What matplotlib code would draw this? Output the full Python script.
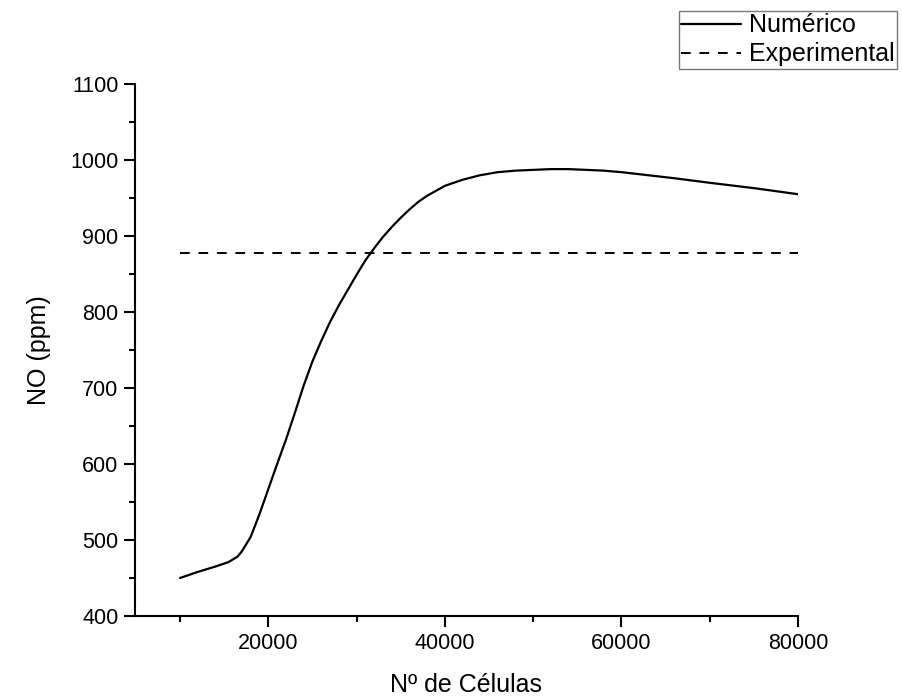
import matplotlib
matplotlib.use("Agg")
import matplotlib.pyplot as plt

plt.rcParams['font.family'] = ['Liberation Sans', 'DejaVu Sans']

cells = [10000, 12000, 14000, 15500, 16500, 17000, 18000, 19000, 20000, 21000, 22000,
         23000, 24000, 25000, 26000, 27000, 28000, 29000, 30000, 31000, 32000,
         33000, 34000, 35000, 36000, 37000, 38000, 40000, 42000, 44000, 46000,
         48000, 50000, 52000, 54000, 56000, 58000, 60000, 63000, 66000, 70000,
         75000, 80000]
no_num = [450, 458, 465, 471, 478, 485, 504, 534, 567, 600, 632,
          667, 703, 735, 762, 787, 809, 829, 849, 868, 884,
          899, 912, 924, 935, 945, 953, 966, 974, 980, 984,
          986, 987, 988, 988, 987, 986, 984, 980, 976, 970,
          963, 955]
exp_x = [10000, 80000]
exp_y = [878, 878]

fig = plt.figure(figsize=(9.02, 6.98), dpi=100)
ax = fig.add_axes([135/902, 1-616/698, (798-135)/902, (616-84)/698])
ax.plot(cells, no_num, color='black', lw=1.6, label='Numérico',
        solid_joinstyle='round', solid_capstyle='round')
ax.plot(exp_x, exp_y, color='black', lw=1.4, ls=(0, (5, 4.5)), label='Experimental')

ax.set_xlim(4900, 80000)
ax.set_ylim(400, 1100)
ax.set_xticks([20000, 40000, 60000, 80000])
ax.set_xticks([10000, 30000, 50000, 70000], minor=True)
ax.set_yticks(range(400, 1101, 100))
ax.set_yticks(range(450, 1100, 100), minor=True)
for s in ['top', 'right']:
    ax.spines[s].set_visible(False)
for s in ['left', 'bottom']:
    ax.spines[s].set_linewidth(1.5)
ax.tick_params(which='major', direction='out', length=8, width=1.5,
               labelsize=15.5, pad=4)
ax.tick_params(which='minor', direction='out', length=4.5, width=1.5)
ax.set_xlabel('Nº de Células', fontsize=18, labelpad=14)
ax.set_ylabel('NO (ppm)', fontsize=18, labelpad=14)

leg = fig.legend(loc='upper right', bbox_to_anchor=(897/902, 1-11/698), fontsize=18,
                 frameon=True, fancybox=False, handlelength=2.4, handletextpad=0.3,
                 borderpad=0.1, labelspacing=0.2, borderaxespad=0)
leg.get_frame().set_edgecolor('#555555')
leg.get_frame().set_linewidth(1.0)

fig.savefig('out.png', dpi=100)
